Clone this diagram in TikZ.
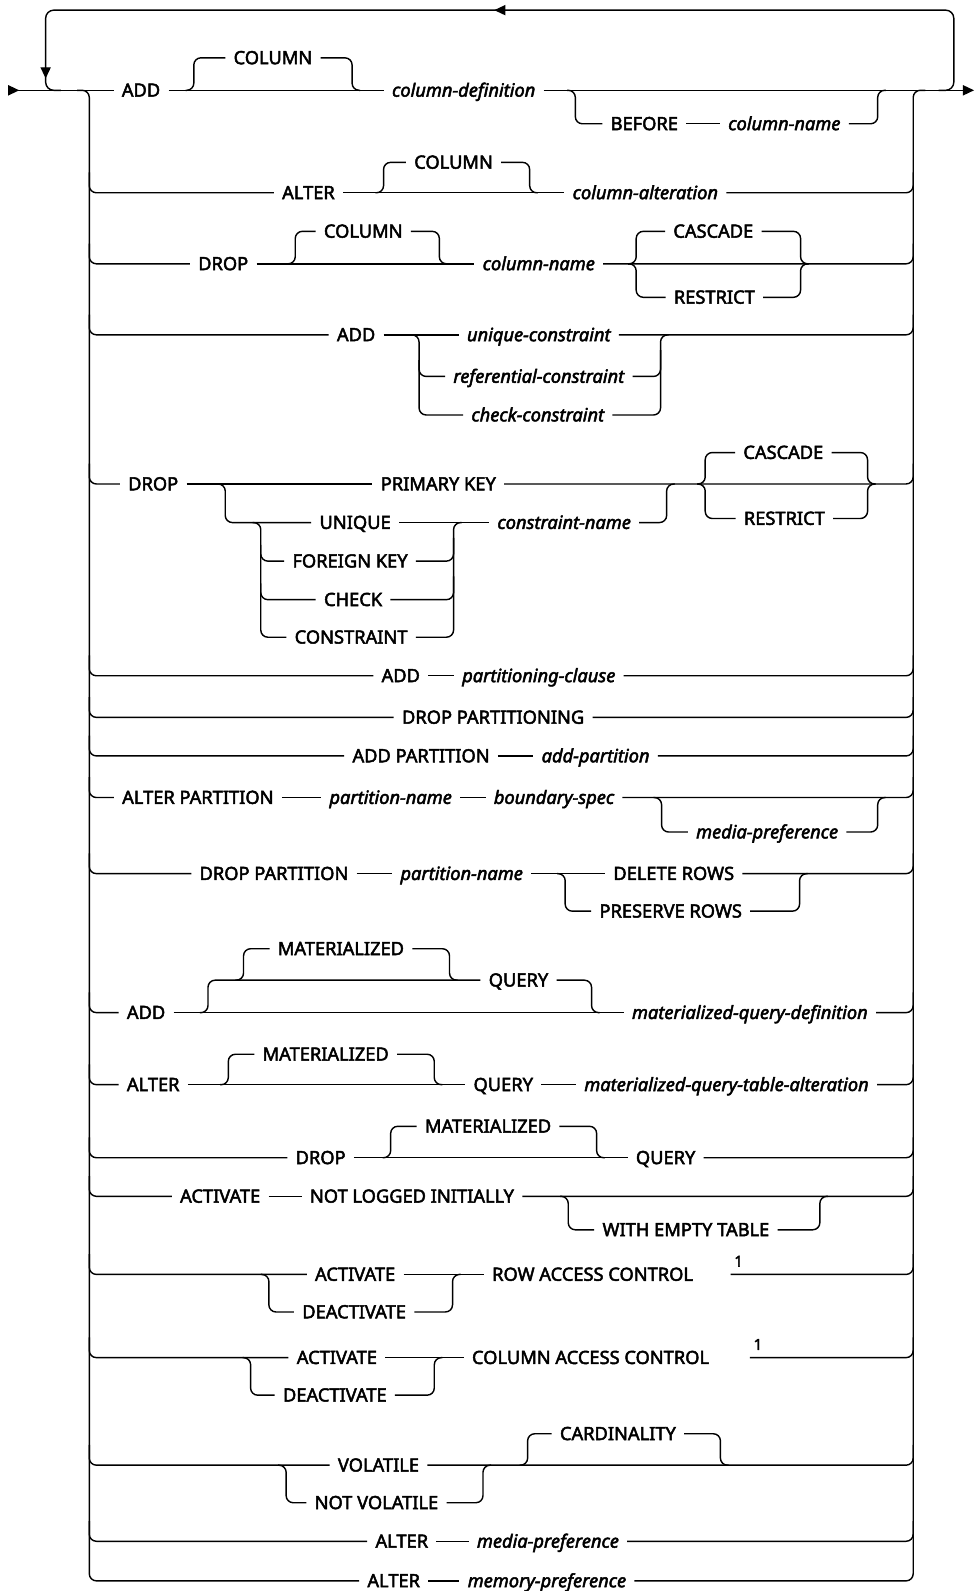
\documentclass[tikz,border=0pt]{standalone}
\usepackage{fontspec}
\newfontfamily\railfont{Noto Sans}[FakeBold=2.6]
\usetikzlibrary{arrows.meta, decorations.markings}
\tikzset{
	rail/.style={
			line width=1.4pt,
			rounded corners=7pt
		},
	kw/.style={
			font=\railfont\fontsize{18}{21}\selectfont,
			text height=12.5pt,
			text depth=0pt,
			inner xsep=8pt,
			inner ysep=3pt
		},
	var/.style={
			kw,
			font=\railfont\itshape\fontsize{18}{21}\selectfont
		},
	fnote/.style={
			font=\railfont\fontsize{15}{17}\selectfont,
			inner sep=0pt
		}
}
\begin{document}
\begin{tikzpicture}[x=1pt, y=-1pt]
\useasboundingbox (0,0) rectangle (960,1568);
\coordinate (in) at (8,89);
\coordinate (out) at (960,89);

% ADD COLUMN
\node[kw] (add1) at (139,89) {ADD};
\node[kw] (col1) at (269,57) {COLUMN};
\node[var] (coldef) at (457,89) {column-definition};
\node[kw] (bef) at (635,122) {BEFORE};
\node[var] (colname1) at (773,122) {column-name};
\draw[line width=1.4pt, {Triangle[reversed,length=11pt,width=10pt]}-] (in) -- (add1);
\draw[rail] (add1) -- (coldef);
\draw[rail] (183,89) -| (191,57) -- (col1);
\draw[rail] (col1) -| (347,89) -- (355,89);
\draw[line width=1.4pt, -{Triangle[length=11pt,width=10pt]}] (coldef) -- (out);
\draw[rail] (559,89) -| (567,122) -- (bef);
\draw[rail] (bef) -- (colname1);
\draw[rail] (colname1) -| (865,89) -- (873,89);
\draw[rail, rounded corners=8pt, postaction={decorate}, decoration={markings,
    mark=at position 540pt with {\arrow{Triangle[length=11pt,width=10pt]}},
    mark=at position 1046pt with {\arrow{Triangle[length=11pt,width=10pt]}}}]
  (925,89) -| (940,10) -| (45,89) -- (60,89);

% ALTER COLUMN
\node[kw] (alter2) at (304,190) {ALTER};
\node[kw] (col2) at (447,160) {COLUMN};
\node[var] (colalt) at (636,190) {column-alteration};
\draw[rail] (88,170) |- (alter2);
\draw[rail] (alter2) -- (colalt);
\draw[rail] (370,190) -| (378,160) -- (col2);
\draw[rail] (col2) -| (522,190) -- (530,190);
\draw[rail] (colalt) -| (900,170);

% DROP COLUMN
\node[kw] (drop3) at (220,260) {DROP};
\node[kw] (col3) at (358,228) {COLUMN};
\node[var] (colname3) at (531,260) {column-name};
\node[kw] (casc3) at (703,228) {CASCADE};
\node[kw] (rest3) at (704,293) {RESTRICT};
\draw[rail] (88,240) |- (drop3);
\draw[rail] (drop3) -- (colname3);
\draw[rail] (283,260) -| (291,228) -- (col3);
\draw[rail] (col3) -| (433,260) -- (441,260);
\draw[rail] (colname3) -| (900,240);
\draw[rail] (619,260) -| (627,228) -- (casc3);
\draw[rail] (619,260) -| (627,293) -- (rest3);
\draw[rail] (casc3) -| (789,260) -- (797,260);
\draw[rail] (rest3) -| (789,260) -- (797,260);

% ADD constraint
\node[kw] (add4) at (351,330) {ADD};
\node[var] (uc) at (531,330) {unique-constraint};
\node[var] (rfc) at (531,371) {referential-constraint};
\node[var] (cc) at (530,409) {check-constraint};
\draw[rail] (88,310) |- (add4);
\draw[rail] (add4) -- (uc);
\draw[rail] (uc) -| (900,310);
\draw[rail] (405,330) -| (413,409) -- (cc);
\draw[rail] (413,355) |- (rfc);
\draw[rail] (rfc) -| (651,345);
\draw[rail] (cc) -| (651,330) -- (659,330);

% DROP constraint
\node[kw] (drop5) at (151,477) {DROP};
\node[kw] (pk) at (432,477) {PRIMARY KEY};
\node[kw] (uq) at (350,515) {UNIQUE};
\node[kw] (fk) at (345,553) {FOREIGN KEY};
\node[kw] (ck) at (348,591) {CHECK};
\node[kw] (cn) at (346,628) {CONSTRAINT};
\node[var] (cname) at (556,515) {constraint-name};
\node[kw] (casc5) at (772,446) {CASCADE};
\node[kw] (rest5) at (773,511) {RESTRICT};
\draw[rail] (88,457) |- (drop5);
\draw[rail] (drop5) -- (pk);
\draw[rail] (pk) -| (900,457);
\draw[rail] (214,477) -| (222,515) -- (uq);
\draw[rail] (uq) -- (cname);
\draw[rail] (249,515) -| (257,628) -- (cn);
\draw[rail] (257,537) |- (fk);
\draw[rail] (257,575) |- (ck);
\draw[rail] (fk) -| (447,530);
\draw[rail] (ck) -| (447,568);
\draw[rail] (cn) -| (447,515) -- (455,515);
\draw[rail] (cname) -| (657,477) -- (665,477);
\draw[rail] (687,477) -| (695,446) -- (casc5);
\draw[rail] (687,477) -| (695,511) -- (rest5);
\draw[rail] (casc5) -| (855,477) -- (863,477);
\draw[rail] (rest5) -| (855,477) -- (863,477);

% partitioning
\node[kw] (add6) at (395,666) {ADD};
\node[var] (pc) at (531,666) {partitioning-clause};
\draw[rail] (88,646) |- (add6);
\draw[rail] (add6) -- (pc);
\draw[rail] (pc) -| (900,646);

\node[kw] (dpg) at (486,707) {DROP PARTITIONING};
\draw[rail] (88,687) |- (dpg);
\draw[rail] (dpg) -| (900,687);

\node[kw] (addp) at (415,745) {ADD PARTITION};
\node[var] (ap) at (587,745) {add-partition};
\draw[rail] (88,725) |- (addp);
\draw[rail] (addp) -- (ap);
\draw[rail] (ap) -| (900,725);

\node[kw] (altp) at (195,786) {ALTER PARTITION};
\node[var] (pn9) at (385,786) {partition-name};
\node[var] (bs) at (546,786) {boundary-spec};
\node[var] (mp9) at (756,820) {media-preference};
\draw[rail] (88,766) |- (altp);
\draw[rail] (altp) -- (pn9);
\draw[rail] (pn9) -- (bs);
\draw[rail] (bs) -| (900,766);
\draw[rail] (644,786) -| (652,820) -- (mp9);
\draw[rail] (mp9) -| (865,786) -- (873,786);

\node[kw] (dp) at (270,861) {DROP PARTITION};
\node[var] (pn10) at (455,861) {partition-name};
\node[kw] (dr) at (664,861) {DELETE ROWS};
\node[kw] (pr) at (661,898) {PRESERVE ROWS};
\draw[rail] (88,841) |- (dp);
\draw[rail] (dp) -- (pn10);
\draw[rail] (pn10) -- (dr);
\draw[rail] (dr) -| (900,841);
\draw[rail] (549,861) -| (557,898) -- (pr);
\draw[rail] (pr) -| (788,861) -- (796,861);

% materialized query
\node[kw] (add11) at (144,998) {ADD};
\node[kw] (mat11) at (336,935) {MATERIALIZED};
\node[kw] (q11) at (511,966) {QUERY};
\node[var] (mqd) at (739,998) {materialized-query-definition};
\draw[rail] (88,978) |- (add11);
\draw[rail] (add11) -- (mqd);
\draw[rail] (mqd) -| (900,978);
\draw[rail] (197,998) -| (205,966) -- (q11);
\draw[rail] (232,966) -| (240,935) -- (mat11);
\draw[rail] (mat11) -| (443,966) -- (451,966);
\draw[rail] (q11) -| (583,998) -- (591,998);

\node[kw] (alter12) at (151,1069) {ALTER};
\node[kw] (mat12) at (321,1039) {MATERIALIZED};
\node[kw] (q12) at (496,1069) {QUERY};
\node[var] (mqta) at (716,1069) {materialized-query-table-alteration};
\draw[rail] (88,1049) |- (alter12);
\draw[rail] (alter12) -- (q12);
\draw[rail] (q12) -- (mqta);
\draw[rail] (mqta) -| (900,1049);
\draw[rail] (217,1069) -| (225,1039) -- (mat12);
\draw[rail] (mat12) -| (428,1069) -- (436,1069);

\node[kw] (drop13) at (316,1141) {DROP};
\node[kw] (mat13) at (481,1110) {MATERIALIZED};
\node[kw] (q13) at (656,1141) {QUERY};
\draw[rail] (88,1121) |- (drop13);
\draw[rail] (drop13) -- (q13);
\draw[rail] (q13) -| (900,1121);
\draw[rail] (377,1141) -| (385,1110) -- (mat13);
\draw[rail] (mat13) -| (588,1141) -- (596,1141);

% activate
\node[kw] (act14) at (217,1179) {ACTIVATE};
\node[kw] (nli) at (406,1179) {NOT LOGGED INITIALLY};
\node[kw] (wet) at (676,1212) {WITH EMPTY TABLE};
\draw[rail] (88,1159) |- (act14);
\draw[rail] (act14) -- (nli);
\draw[rail] (nli) -| (900,1159);
\draw[rail] (552,1179) -| (560,1212) -- (wet);
\draw[rail] (wet) -| (808,1179) -- (816,1179);

\node[kw] (act15) at (350,1256) {ACTIVATE};
\node[kw] (deact15) at (349,1293) {DEACTIVATE};
\node[kw] (rac) at (584,1256) {ROW ACCESS CONTROL};
\node[fnote] (fn15) at (728,1243) {1};
\coordinate (f15) at (720,1256);
\draw[rail] (88,1236) |- (act15);
\draw[rail] (act15) -- (rac);
\draw[rail] (257,1256) -| (265,1293) -- (deact15);
\draw[rail] (deact15) -| (446,1256) -- (454,1256);
\draw[rail] (f15) -| (900,1236);

\node[kw] (act16) at (332,1338) {ACTIVATE};
\node[kw] (deact16) at (330,1375) {DEACTIVATE};
\node[kw] (cac) at (582,1338) {COLUMN ACCESS CONTROL};
\node[fnote] (fn16) at (747,1325) {1};
\coordinate (f16) at (739,1338);
\draw[rail] (88,1318) |- (act16);
\draw[rail] (act16) -- (cac);
\draw[rail] (239,1338) -| (247,1375) -- (deact16);
\draw[rail] (deact16) -| (428,1338) -- (436,1338);
\draw[rail] (f16) -| (900,1318);

% volatile
\node[kw] (vol) at (373,1444) {VOLATILE};
\node[kw] (nvol) at (371,1481) {NOT VOLATILE};
\node[kw] (card) at (609,1413) {CARDINALITY};
\draw[rail] (88,1424) |- (vol);
\draw[rail] (vol) -| (900,1424);
\draw[rail] (274,1444) -| (282,1481) -- (nvol);
\draw[rail] (nvol) -| (476,1444) -- (484,1444);
\draw[rail] (512,1444) -| (520,1413) -- (card);
\draw[rail] (card) -| (710,1444) -- (718,1444);

% media / memory
\node[kw] (alter18) at (396,1519) {ALTER};
\node[var] (mp18) at (540,1519) {media-preference};
\draw[rail] (88,1499) |- (alter18);
\draw[rail] (alter18) -- (mp18);
\draw[rail] (mp18) -| (900,1499);

\node[kw] (alter19) at (388,1558) {ALTER};
\node[var] (memp) at (539,1558) {memory-preference};
\draw[rail] (alter19) -- (memp);

% side rails
\draw[rail] (76,89) -| (88,1558) -- (alter19);
\draw[rail] (memp) -| (900,89) -- (912,89);
\end{tikzpicture}
\end{document}
